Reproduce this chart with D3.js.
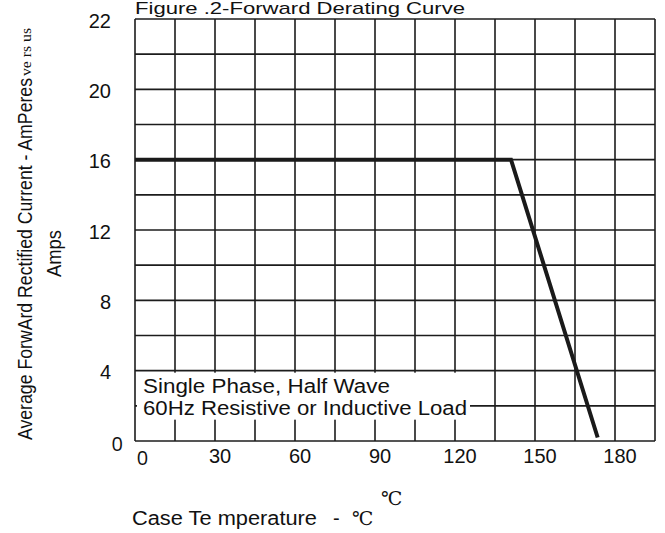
<!DOCTYPE html>
<html>
<head>
<meta charset="utf-8">
<script src="https://cdn.jsdelivr.net/npm/d3@7"></script>
<style>
  body { margin: 0; background: #fff; }
  text { font-family: "Liberation Sans", Arial, sans-serif; fill: #111; }
</style>
</head>
<body>
<svg id="chart" width="665" height="533"></svg>
<script>
// derating curve
var caseTemp = [0, 141, 173.5];
var currentAmps = [16, 16, 0.2];

var xTicks = [0, 30, 60, 90, 120, 150, 180];
var yTicks = [0, 4, 8, 12, 16, 20, 24];
var yTickLabels = ["0", "4", "8", "12", "16", "20", "22"];

var svg = d3.select("#chart"),
    margin = {top: 19, right: 10, bottom: 92, left: 135},
    width = +svg.attr("width") - margin.left - margin.right,
    height = +svg.attr("height") - margin.top - margin.bottom;

var x = d3.scaleLinear().domain([0, 195]).range([0, width]),
    y = d3.scaleLinear().domain([0, 24]).range([height, 0]);

var g = svg.append("g")
    .attr("transform", "translate(" + margin.left + "," + margin.top + ")");

// grid: 15 degC columns, 2 A rows
g.append("g")
    .attr("class", "grid")
    .selectAll("line.v")
    .data(d3.range(0, 196, 15))
    .enter().append("line")
      .attr("x1", function(d) { return x(d); })
      .attr("x2", function(d) { return x(d); })
      .attr("y1", 0)
      .attr("y2", height)
      .attr("stroke", "#1c1c1c")
      .attr("stroke-width", 1.6);

g.select(".grid")
    .selectAll("line.h")
    .data(d3.range(0, 25, 2))
    .enter().append("line")
      .attr("x1", 0)
      .attr("x2", width)
      .attr("y1", function(d) { return y(d); })
      .attr("y2", function(d) { return y(d); })
      .attr("stroke", "#1c1c1c")
      .attr("stroke-width", 1.6);

// the note box blanks out the grid behind it
g.append("rect")
    .attr("x", 2)
    .attr("y", y(4) + 2)
    .attr("width", 333)
    .attr("height", 47)
    .attr("fill", "#fff");

g.append("text")
    .attr("x", 8)
    .attr("y", 374)
    .attr("font-size", 20)
    .attr("textLength", 247)
    .attr("lengthAdjust", "spacingAndGlyphs")
    .text("Single Phase, Half Wave");

g.append("text")
    .attr("x", 8)
    .attr("y", 396)
    .attr("font-size", 20)
    .attr("textLength", 324)
    .attr("lengthAdjust", "spacingAndGlyphs")
    .text("60Hz Resistive or Inductive Load");

var line = d3.line()
    .x(function(d) { return x(d[0]); })
    .y(function(d) { return y(d[1]); });

g.append("path")
    .datum(d3.zip(caseTemp, currentAmps))
    .attr("d", line)
    .attr("fill", "none")
    .attr("stroke", "#1a1a1a")
    .attr("stroke-width", 4);

// tick labels
g.selectAll(".xlab")
  .data(xTicks)
  .enter().append("text")
    .attr("class", "xlab")
    .attr("x", function(d) { return x(d) + (d === 0 ? 7.5 : 5); })
    .attr("y", function(d) { return height + (d === 0 ? 24 : 22); })
    .attr("text-anchor", "middle")
    .attr("font-size", 20)
    .style("font-family", function(d) { return d === 0 ? "'Open Sans', sans-serif" : null; })
    .text(function(d) { return d; });

g.selectAll(".ylab")
  .data(yTicks)
  .enter().append("text")
    .attr("class", "ylab")
    .attr("x", function(d) { return d === 0 ? -12 : -24; })
    .attr("y", function(d) { return y(d) + (d === 0 ? 10 : 8.5); })
    .attr("text-anchor", "end")
    .attr("font-size", 20)
    .style("font-family", function(d) { return d === 0 ? "'Open Sans', sans-serif" : null; })
    .text(function(d, i) { return yTickLabels[i]; });

// titles
svg.append("text")
    .attr("x", 135)
    .attr("y", 14)
    .attr("font-size", 17)
    .attr("textLength", 330)
    .attr("lengthAdjust", "spacingAndGlyphs")
    .text("Figure .2-Forward Derating Curve");

svg.append("text")
    .attr("transform", "translate(32,440) rotate(-90)")
    .attr("font-size", 21)
    .attr("textLength", 362)
    .attr("lengthAdjust", "spacingAndGlyphs")
    .text("Average ForwArd Rectified Current  -  AmPeres");

svg.append("text")
    .attr("transform", "translate(31,76) rotate(-90)")
    .attr("font-size", 14)
    .attr("textLength", 48)
    .attr("lengthAdjust", "spacingAndGlyphs")
    .style("font-family", "'Liberation Serif', serif")
    .text("ve rs us");

svg.append("text")
    .attr("transform", "translate(61,277) rotate(-90)")
    .attr("font-size", 20)
    .attr("textLength", 47)
    .attr("lengthAdjust", "spacingAndGlyphs")
    .text("Amps");

svg.append("text")
    .attr("x", 132)
    .attr("y", 525)
    .attr("font-size", 20)
    .attr("textLength", 185)
    .attr("lengthAdjust", "spacingAndGlyphs")
    .text("Case Te mperature");

svg.append("text")
    .attr("x", 333)
    .attr("y", 525)
    .attr("font-size", 20)
    .text("-");

svg.append("text")
    .attr("x", 352)
    .attr("y", 525)
    .attr("font-size", 19)
    .style("font-family", "'DejaVu Serif', serif")
    .text("℃");

svg.append("text")
    .attr("x", 381)
    .attr("y", 505)
    .attr("font-size", 19)
    .style("font-family", "'DejaVu Serif', serif")
    .text("℃");
</script>
</body>
</html>
